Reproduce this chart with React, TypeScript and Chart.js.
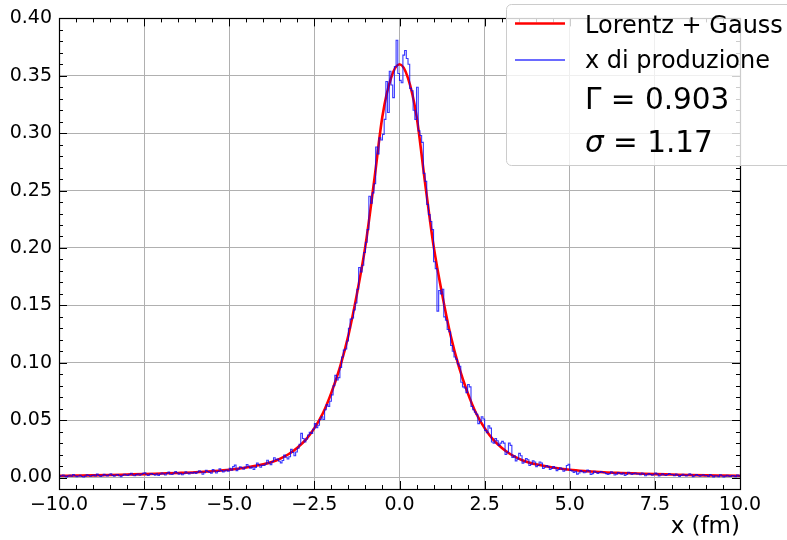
import { useEffect, useRef } from "react";
import { Chart, registerables } from "chart.js";

Chart.register(...registerables);

// ---------------- data ----------------
const X_MIN = -10;
const X_MAX = 10;
const Y_MIN = -0.01;
const Y_MAX = 0.4;

const BIN_START = -10;
const BIN_WIDTH = 0.05;

// histogram "x di produzione" (400 bins of width 0.05 from -10 to 10), one row per unit of x
const histValues = [
  0.0010, 0.0016, 0.0022, 0.0012, 0.0006, 0.0014, 0.0020, 0.0011, 0.0026, 0.0015, 0.0008, 0.0013, 0.0019, 0.0009, 0.0004, 0.0012, 0.0024, 0.0017, 0.0011, 0.0018,
  0.0021, 0.0013, 0.0030, 0.0018, 0.0010, 0.0016, 0.0027, 0.0020, 0.0014, 0.0024, 0.0033, 0.0019, 0.0012, 0.0022, 0.0026, 0.0015, 0.0008, 0.0020, 0.0029, 0.0023,
  0.0018, 0.0027, 0.0037, 0.0022, 0.0015, 0.0025, 0.0031, 0.0020, 0.0028, 0.0036, 0.0042, 0.0024, 0.0017, 0.0030, 0.0035, 0.0026, 0.0021, 0.0033, 0.0019, 0.0028,
  0.0040, 0.0031, 0.0022, 0.0036, 0.0047, 0.0029, 0.0026, 0.0038, 0.0052, 0.0041, 0.0030, 0.0037, 0.0024, 0.0033, 0.0049, 0.0039, 0.0032, 0.0044, 0.0038, 0.0045,
  0.0036, 0.0047, 0.0058, 0.0050, 0.0028, 0.0041, 0.0062, 0.0053, 0.0045, 0.0038, 0.0070, 0.0057, 0.0040, 0.0052, 0.0075, 0.0060, 0.0049, 0.0058, 0.0066, 0.0055,
  0.0080, 0.0064, 0.0095, 0.0108, 0.0060, 0.0075, 0.0093, 0.0085, 0.0072, 0.0089, 0.0112, 0.0098, 0.0082, 0.0091, 0.0070, 0.0088, 0.0125, 0.0114, 0.0090, 0.0106,
  0.0105, 0.0118, 0.0150, 0.0128, 0.0112, 0.0140, 0.0172, 0.0155, 0.0160, 0.0142, 0.0128, 0.0148, 0.0195, 0.0176, 0.0162, 0.0181, 0.0245, 0.0218, 0.0190, 0.0222,
  0.0255, 0.0290, 0.0385, 0.0340, 0.0310, 0.0335, 0.0370, 0.0395, 0.0385, 0.0420, 0.0470, 0.0435, 0.0455, 0.0505, 0.0530, 0.0505, 0.0590, 0.0635, 0.0620, 0.0665,
  0.0720, 0.0800, 0.0890, 0.0850, 0.0870, 0.0960, 0.1050, 0.1110, 0.1120, 0.1190, 0.1300, 0.1380, 0.1390, 0.1460, 0.1520, 0.1640, 0.1830, 0.1790, 0.1850, 0.1960,
  0.2050, 0.2160, 0.2450, 0.2390, 0.2480, 0.2560, 0.2880, 0.2820, 0.2960, 0.2940, 0.2990, 0.3120, 0.3450, 0.3180, 0.3540, 0.3420, 0.3310, 0.3580, 0.3810, 0.3520,
  0.3460, 0.3440, 0.3680, 0.3720, 0.3650, 0.3600, 0.3390, 0.3370, 0.3200, 0.3120, 0.3400, 0.3020, 0.2980, 0.2920, 0.2650, 0.2580, 0.2380, 0.2290, 0.2230, 0.2160,
  0.1880, 0.1820, 0.1450, 0.1630, 0.1600, 0.1640, 0.1400, 0.1370, 0.1290, 0.1270, 0.1150, 0.1100, 0.1050, 0.1030, 0.0990, 0.0970, 0.0830, 0.0790, 0.0780, 0.0740,
  0.0810, 0.0790, 0.0620, 0.0590, 0.0570, 0.0550, 0.0470, 0.0490, 0.0530, 0.0510, 0.0410, 0.0390, 0.0450, 0.0430, 0.0310, 0.0300, 0.0340, 0.0320, 0.0280, 0.0300,
  0.0315, 0.0300, 0.0200, 0.0220, 0.0300, 0.0280, 0.0175, 0.0190, 0.0145, 0.0160, 0.0210, 0.0190, 0.0125, 0.0135, 0.0165, 0.0155, 0.0105, 0.0115, 0.0145, 0.0135,
  0.0095, 0.0105, 0.0135, 0.0125, 0.0080, 0.0090, 0.0105, 0.0095, 0.0070, 0.0080, 0.0095, 0.0085, 0.0060, 0.0070, 0.0085, 0.0075, 0.0055, 0.0065, 0.0105, 0.0115,
  0.0062, 0.0058, 0.0045, 0.0055, 0.0030, 0.0040, 0.0060, 0.0050, 0.0042, 0.0048, 0.0066, 0.0058, 0.0026, 0.0034, 0.0054, 0.0046, 0.0036, 0.0044, 0.0052, 0.0044,
  0.0042, 0.0034, 0.0026, 0.0034, 0.0050, 0.0042, 0.0022, 0.0030, 0.0044, 0.0036, 0.0030, 0.0038, 0.0018, 0.0026, 0.0046, 0.0038, 0.0026, 0.0034, 0.0040, 0.0032,
  0.0032, 0.0024, 0.0040, 0.0032, 0.0016, 0.0024, 0.0034, 0.0026, 0.0020, 0.0028, 0.0038, 0.0030, 0.0014, 0.0022, 0.0032, 0.0024, 0.0018, 0.0026, 0.0034, 0.0026,
  0.0024, 0.0016, 0.0030, 0.0022, 0.0010, 0.0018, 0.0028, 0.0020, 0.0014, 0.0022, 0.0032, 0.0024, 0.0008, 0.0016, 0.0026, 0.0018, 0.0012, 0.0020, 0.0024, 0.0016,
  0.0018, 0.0010, 0.0026, 0.0018, 0.0006, 0.0014, 0.0016, 0.0008, 0.0024, 0.0016, 0.0006, 0.0012, 0.0020, 0.0012, 0.0010, 0.0018, 0.0014, 0.0008, 0.0022, 0.0014,
];

// fitted curve "Lorentz + Gauss"
const curveX = [
  -10, -9.5, -9, -8.5, -8, -7.5, -7, -6.5, -6, -5.5, -5, -4.5, -4,
  -3.75, -3.5, -3.25, -3, -2.75, -2.5, -2.25, -2, -1.75, -1.5, -1.25, -1,
  -0.75, -0.5, -0.25, 0, 0.25, 0.5, 0.75,
  1, 1.25, 1.5, 1.75, 2, 2.25, 2.5, 2.75, 3, 3.25, 3.5, 3.75,
  4, 4.5, 5, 5.5, 6, 6.5, 7, 7.5, 8, 8.5, 9, 9.5, 10,
];
const curveY = [
  0.0015, 0.0017, 0.0019, 0.0022, 0.0026, 0.003, 0.0035, 0.004, 0.0046, 0.0055, 0.0067, 0.0087, 0.0115,
  0.0135, 0.0165, 0.0205, 0.026, 0.033, 0.043, 0.056, 0.074, 0.096, 0.124, 0.16, 0.202,
  0.257, 0.315, 0.348, 0.36, 0.348, 0.315, 0.257,
  0.202, 0.16, 0.124, 0.096, 0.074, 0.056, 0.043, 0.033, 0.026, 0.0205, 0.0165, 0.0135,
  0.0115, 0.0087, 0.0067, 0.0055, 0.0046, 0.004, 0.0035, 0.003, 0.0026, 0.0022, 0.0019, 0.0017, 0.0015,
];

const xTickValues = [-10, -7.5, -5, -2.5, 0, 2.5, 5, 7.5, 10];
const xTickLabels = ["\u221210.0", "\u22127.5", "\u22125.0", "\u22122.5", "0.0", "2.5", "5.0", "7.5", "10.0"];
const yTickValues = [0, 0.05, 0.1, 0.15, 0.2, 0.25, 0.3, 0.35, 0.4];
const yTickLabels = ["0.00", "0.05", "0.10", "0.15", "0.20", "0.25", "0.30", "0.35", "0.40"];
const X_MINOR_STEP = 0.5;
const Y_MINOR_STEP = 0.01;

const seriesLabels = ["Lorentz + Gauss", "x di produzione"];
const fitSymbols = ["\u0393", "\u03c3"];
const fitSymbolItalic = [false, true];
const fitValues = ["0.903", "1.17"];
const xTitle = "x (fm)";

const FONT = "'DejaVu Sans', 'Noto Sans', sans-serif";
const RED = "#ff0000";
const BLUE = "rgba(0,0,255,0.78)";

const decorPlugin = {
  id: "decor",
  afterDraw(chart: any) {
    const ctx = chart.ctx as CanvasRenderingContext2D;
    const { left, right, top, bottom } = chart.chartArea;
    const xs = chart.scales.x;
    const ys = chart.scales.y;
    const crisp = (p: number) => Math.round(p) + 0.5;
    const isMajor = (v: number, majors: number[]) => majors.some((m) => Math.abs(m - v) < 1e-6);

    ctx.save();
    ctx.strokeStyle = "#000";
    ctx.lineWidth = 1;
    // ticks on all four sides, pointing inwards
    const drawX = (v: number, len: number) => {
      const px = crisp(xs.getPixelForValue(v));
      ctx.beginPath();
      ctx.moveTo(px, bottom);
      ctx.lineTo(px, bottom - len);
      ctx.moveTo(px, top);
      ctx.lineTo(px, top + len);
      ctx.stroke();
    };
    const drawY = (v: number, len: number) => {
      const py = crisp(ys.getPixelForValue(v));
      ctx.beginPath();
      ctx.moveTo(left, py);
      ctx.lineTo(left + len, py);
      ctx.moveTo(right, py);
      ctx.lineTo(right - len, py);
      ctx.stroke();
    };
    xTickValues.forEach((v) => drawX(v, 8));
    for (let v = X_MIN; v <= X_MAX + 1e-9; v += X_MINOR_STEP) {
      if (!isMajor(v, xTickValues)) drawX(v, 4);
    }
    yTickValues.forEach((v) => drawY(v, 8));
    for (let k = 0; Y_MIN + k * Y_MINOR_STEP <= Y_MAX + 1e-9; k++) {
      const v = Y_MIN + k * Y_MINOR_STEP;
      if (!isMajor(v, yTickValues)) drawY(v, 4);
    }

    // frame
    ctx.lineWidth = 1.2;
    ctx.strokeRect(crisp(left), crisp(top), Math.round(right) - Math.round(left), Math.round(bottom) - Math.round(top));

    // x axis title
    ctx.fillStyle = "#000";
    ctx.font = `23px ${FONT}`;
    ctx.textAlign = "right";
    ctx.textBaseline = "alphabetic";
    ctx.fillText(xTitle, right, 533);

    // legend
    const lx = 506.5;
    const ly = 4.5;
    const lw = 320;
    const lh = 161;
    const r = 5;
    ctx.beginPath();
    ctx.moveTo(lx + r, ly);
    ctx.lineTo(lx + lw - r, ly);
    ctx.arcTo(lx + lw, ly, lx + lw, ly + r, r);
    ctx.lineTo(lx + lw, ly + lh - r);
    ctx.arcTo(lx + lw, ly + lh, lx + lw - r, ly + lh, r);
    ctx.lineTo(lx + r, ly + lh);
    ctx.arcTo(lx, ly + lh, lx, ly + lh - r, r);
    ctx.lineTo(lx, ly + r);
    ctx.arcTo(lx, ly, lx + r, ly, r);
    ctx.closePath();
    ctx.fillStyle = "rgba(255,255,255,0.8)";
    ctx.fill();
    ctx.strokeStyle = "#cccccc";
    ctx.lineWidth = 1;
    ctx.stroke();

    const textX = 585;
    const handles = [
      { color: RED, width: 2.5, y: 23.5 },
      { color: BLUE, width: 1.3, y: 60 },
    ];
    const baselines = [33, 68];
    ctx.textAlign = "left";
    ctx.fillStyle = "#000";
    seriesLabels.forEach((lab, i) => {
      ctx.strokeStyle = handles[i].color;
      ctx.lineWidth = handles[i].width;
      ctx.beginPath();
      ctx.moveTo(515, handles[i].y);
      ctx.lineTo(565, handles[i].y);
      ctx.stroke();
      ctx.font = `24px ${FONT}`;
      ctx.fillText(lab, textX, baselines[i]);
    });
    const fitBaselines = [109, 152];
    fitSymbols.forEach((sym, i) => {
      ctx.font = `${fitSymbolItalic[i] ? "italic " : ""}29.5px ${FONT}`;
      ctx.fillText(sym, textX, fitBaselines[i]);
      const w = ctx.measureText(sym).width;
      ctx.font = `29.5px ${FONT}`;
      ctx.fillText(` = ${fitValues[i]}`, textX + w, fitBaselines[i]);
    });
    ctx.restore();
  },
};

export default function App() {
  const canvasRef = useRef<HTMLCanvasElement | null>(null);

  useEffect(() => {
    const canvas = canvasRef.current;
    if (!canvas) return;

    const histPoints = histValues.map((v, i) => ({ x: BIN_START + i * BIN_WIDTH, y: v }));
    histPoints.push({ x: BIN_START + histValues.length * BIN_WIDTH, y: histValues[histValues.length - 1] });
    const curvePoints = curveX.map((x, i) => ({ x, y: curveY[i] }));

    const chart = new Chart(canvas, {
      type: "line",
      data: {
        datasets: [
          {
            label: seriesLabels[1],
            data: histPoints,
            borderColor: BLUE,
            borderWidth: 1.1,
            stepped: true,
            pointRadius: 0,
            fill: false,
            order: 0,
          },
          {
            label: seriesLabels[0],
            data: curvePoints,
            borderColor: RED,
            borderWidth: 2.6,
            cubicInterpolationMode: "monotone",
            pointRadius: 0,
            fill: false,
            order: 1,
          },
        ],
      },
      options: {
        animation: false,
        responsive: false,
        devicePixelRatio: 1,
        layout: { padding: { top: 15, right: 47, left: 0, bottom: 0 } },
        plugins: { legend: { display: false }, tooltip: { enabled: false } },
        scales: {
          x: {
            type: "linear",
            min: X_MIN,
            max: X_MAX,
            afterBuildTicks: (s: any) => {
              s.ticks = xTickValues.map((v) => ({ value: v }));
            },
            afterFit: (s: any) => {
              s.height = 51;
            },
            ticks: {
              callback: (_v: any, i: number) => xTickLabels[i],
              font: { family: FONT, size: 19 },
              color: "#000",
              padding: 5,
              maxRotation: 0,
              autoSkip: false,
            },
            grid: { color: "#b0b0b0", lineWidth: 1, drawTicks: false },
            border: { display: false },
          },
          y: {
            type: "linear",
            min: Y_MIN,
            max: Y_MAX,
            afterBuildTicks: (s: any) => {
              s.ticks = yTickValues.map((v) => ({ value: v }));
            },
            afterFit: (s: any) => {
              s.width = 59;
            },
            ticks: {
              callback: (_v: any, i: number) => yTickLabels[i],
              font: { family: FONT, size: 19 },
              color: "#000",
              padding: 7,
              autoSkip: false,
            },
            grid: { color: "#b0b0b0", lineWidth: 1, drawTicks: false },
            border: { display: false },
          },
        },
      } as any,
      plugins: [decorPlugin],
    });

    return () => chart.destroy();
  }, []);

  return (
    <div style={{ position: "absolute", left: 0, top: 0, width: 787, height: 540, background: "#fff" }}>
      <canvas ref={canvasRef} width={787} height={540} />
    </div>
  );
}
